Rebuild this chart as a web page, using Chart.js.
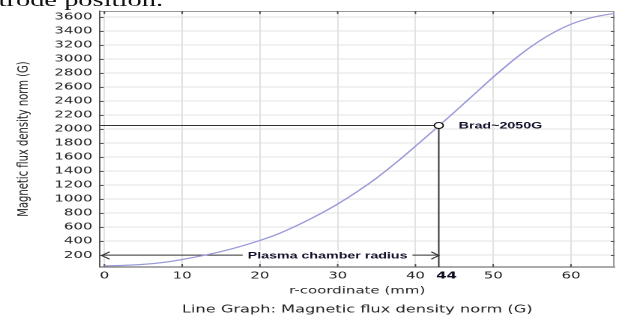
<!DOCTYPE html>
<html>
<head>
<meta charset="utf-8">
<script src="https://cdn.jsdelivr.net/npm/chart.js@4.4.1/dist/chart.umd.min.js"></script>
<style>
  html, body { margin: 0; padding: 0; background: #fff; overflow: hidden; }
  /* the source picture is stretched sideways, so the whole chart is too */
  #wrap { position: absolute; left: 0; top: 0; width: 415px; height: 317px; transform: scaleX(1.4988); transform-origin: 0 0; }
  #cut { position: absolute; left: -1px; top: -10px; font: 19px/19px "Liberation Serif", serif; color: #111; white-space: nowrap; }
  #myChart { position: absolute; left: 0; top: 0; }
</style>
</head>
<body>
<div id="wrap">
  <div id="cut">trode position.</div>
  <canvas id="myChart" width="415" height="317"></canvas>
</div>
<script>
// r-coordinate (mm) и |B| (G)
const rValues = [0, 2.5, 5, 7.5, 10, 12.5, 15, 17.5, 20, 22.5, 25, 27.5, 30, 32.5, 35, 37.5, 40, 42.5, 45, 47.5, 50, 52.5, 55, 57.5, 60, 62.5, 65, 65.6];
const bValues = [48, 54, 68, 95, 138, 190, 252, 325, 410, 510, 635, 775, 930, 1105, 1300, 1520, 1755, 1995, 2240, 2490, 2740, 2975, 3185, 3360, 3495, 3585, 3640, 3648];

const xTicks = [0, 10, 20, 30, 40, 44, 50, 60];
const yTicks = [200, 400, 600, 800, 1000, 1200, 1400, 1600, 1800, 2000, 2200, 2400, 2600, 2800, 3000, 3200, 3400, 3600];

// marked point and chamber radius arrow
const markR = 43;
const markB = 2050;
const markLabel = "Brad~2050G";
const arrowB = 200;
const arrowLabel = "Plasma chamber radius";
const arrowLabelR = 28.7;
const bottomTitle = "Line Graph: Magnetic flux density norm (G)";

const xMin = -0.57, xMax = 65.6;
const yMin = 31, yMax = 3684;

const gridColor = "#e2e2e2";
const textColor = "#222";

const curve = rValues.map((r, i) => ({ x: r, y: bValues[i] }));
const rArrow = [{ x: xMin + 0.22, y: arrowB }, { x: markR, y: arrowB }];

// inner tick marks, frame, arrowheads and labels
const extrasPlugin = {
  id: "extras",
  beforeDatasetsDraw(chart) {
    const { ctx, chartArea: a, scales: { x, y } } = chart;
    ctx.save();
    ctx.strokeStyle = "#999";
    ctx.lineWidth = 1;
    ctx.beginPath();
    ctx.moveTo(a.left, a.top + 0.5);
    ctx.lineTo(a.right - 0.5, a.top + 0.5);
    ctx.lineTo(a.right - 0.5, a.bottom);
    ctx.stroke();
    ctx.strokeStyle = "#555";
    ctx.beginPath();
    yTicks.forEach(v => {
      const py = Math.round(y.getPixelForValue(v)) + 0.5;
      ctx.moveTo(a.left, py); ctx.lineTo(a.left + 2.5, py);
      ctx.moveTo(a.right, py); ctx.lineTo(a.right - 2.5, py);
    });
    xTicks.forEach(v => {
      if (v === 44) return;
      const px = x.getPixelForValue(v);
      ctx.moveTo(px, a.bottom); ctx.lineTo(px, a.bottom - 3);
      ctx.moveTo(px, a.top); ctx.lineTo(px, a.top + 3);
    });
    ctx.stroke();
    ctx.restore();
  },
  afterDatasetsDraw(chart) {
    const { ctx, scales: { x, y } } = chart;
    ctx.save();
    ctx.font = "bold 9.5px 'Liberation Sans', Arial, sans-serif";
    ctx.textBaseline = "middle";

    // label on the arrow, with a white gap behind it
    const ay = Math.round(y.getPixelForValue(arrowB)) + 0.5;
    const lx = x.getPixelForValue(arrowLabelR);
    const w = ctx.measureText(arrowLabel).width;
    ctx.fillStyle = "#fff";
    ctx.fillRect(lx - w / 2 - 3.3, ay - 5, w + 6.6, 10);
    ctx.fillStyle = "#10102a";
    ctx.textAlign = "center";
    ctx.fillText(arrowLabel, lx, ay + 0.5);

    // open arrowheads
    const left = x.getPixelForValue(rArrow[0].x);
    const right = x.getPixelForValue(rArrow[1].x);
    ctx.strokeStyle = "#333";
    ctx.lineWidth = 1;
    ctx.beginPath();
    ctx.moveTo(left + 5.3, ay - 3.7); ctx.lineTo(left, ay); ctx.lineTo(left + 5.3, ay + 3.7);
    ctx.moveTo(right - 5, ay - 3.7); ctx.lineTo(right, ay); ctx.lineTo(right - 5, ay + 3.7);
    ctx.stroke();

    // point label
    ctx.fillStyle = "#10102a";
    ctx.textAlign = "left";
    ctx.fillText(markLabel, x.getPixelForValue(markR) + 13.3, y.getPixelForValue(markB) + 0.5);
    ctx.restore();
  },
  afterDraw(chart) {
    // graph caption, centred under the plot area
    const { ctx, chartArea: a } = chart;
    ctx.save();
    ctx.font = "10.8px 'DejaVu Sans', sans-serif";
    ctx.fillStyle = textColor;
    ctx.textAlign = "center";
    ctx.textBaseline = "middle";
    ctx.fillText(bottomTitle, (a.left + a.right) / 2, 309.6);
    ctx.restore();
  }
};

const tickFont = { family: "'DejaVu Sans', sans-serif", size: 10 };

new Chart(document.getElementById("myChart"), {
  type: "line",
  data: {
    datasets: [
      {
        data: [{ x: markR, y: markB }],
        showLine: false,
        pointRadius: 3,
        pointBackgroundColor: "#fff",
        pointBorderColor: "#111",
        pointBorderWidth: 1,
        order: 0
      },
      {
        data: curve,
        borderColor: "#9a9ad8",
        borderWidth: 1.2,
        pointRadius: 0,
        cubicInterpolationMode: "monotone",
        order: 1
      },
      {
        data: [{ x: xMin, y: markB }, { x: markR, y: markB }, { x: markR, y: yMin }],
        borderColor: "#333",
        borderWidth: 1,
        pointRadius: 0,
        tension: 0,
        order: 2
      },
      {
        data: rArrow,
        borderColor: "#333",
        borderWidth: 1,
        pointRadius: 0,
        tension: 0,
        order: 2
      }
    ]
  },
  options: {
    responsive: false,
    animation: false,
    devicePixelRatio: 2,
    layout: { padding: { top: 10, right: 1.3, left: 0, bottom: 19.6 } },
    plugins: {
      legend: { display: false },
      tooltip: { enabled: false },
      title: { display: false }
    },
    scales: {
      x: {
        type: "linear",
        min: xMin,
        max: xMax,
        afterBuildTicks: (s) => { s.ticks = xTicks.map(v => ({ value: v })); },
        ticks: {
          autoSkip: false,
          maxRotation: 0,
          padding: 3,
          color: (c) => (c.tick && c.tick.value === 44) ? "#0d0d20" : textColor,
          font: (c) => (c.tick && c.tick.value === 44) ? { ...tickFont, weight: "bold" } : tickFont,
          callback: (v) => v
        },
        grid: {
          color: (c) => (c.tick && c.tick.value === 44) ? "rgba(0,0,0,0)" : gridColor,
          drawTicks: false
        },
        border: { color: "#555", width: 1 },
        title: {
          display: true,
          text: "r-coordinate (mm)",
          color: textColor,
          font: tickFont,
          padding: { top: 0, bottom: 0.4 }
        }
      },
      y: {
        min: yMin,
        max: yMax,
        afterBuildTicks: (s) => { s.ticks = yTicks.map(v => ({ value: v })); },
        afterFit: (s) => { s.width = 66.7; },
        ticks: {
          autoSkip: false,
          padding: 5,
          color: textColor,
          font: tickFont,
          callback: (v) => v
        },
        grid: { color: gridColor, drawTicks: false },
        border: { color: "#555", width: 1 },
        title: {
          display: true,
          text: "Magnetic flux density norm (G)",
          color: textColor,
          font: tickFont,
          padding: { top: 10, bottom: 0 }
        }
      }
    }
  },
  plugins: [extrasPlugin]
});
</script>
</body>
</html>
